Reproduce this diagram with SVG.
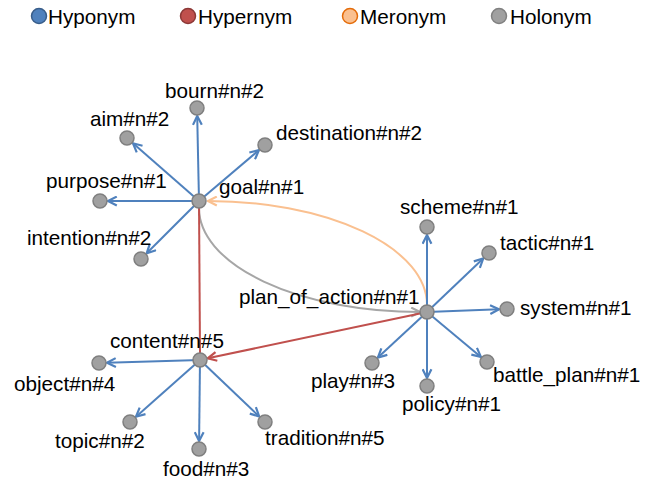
<svg xmlns="http://www.w3.org/2000/svg" width="652" height="487" viewBox="0 0 652 487">
<style>
text{font-family:"Liberation Sans",Arial,sans-serif;font-size:20.7px;fill:#000}
.node{fill:#A0A0A0;stroke:#7F7F7F;stroke-width:1.5}
.e{fill:none;stroke-width:2}
.hypo{stroke:#4F81BD}
.hyper{stroke:#C0504D}
.mero{stroke:#FAC090}
.holo{stroke:#A6A6A6}
</style>
<defs>
<marker id="mb" viewBox="0 0 10 10" refX="9" refY="5" markerWidth="11" markerHeight="11" markerUnits="userSpaceOnUse" orient="auto"><path d="M1,1 L9,5 L1,9" fill="none" stroke="#4F81BD" stroke-width="2"/></marker>
<marker id="mr" viewBox="0 0 10 10" refX="9" refY="5" markerWidth="11" markerHeight="11" markerUnits="userSpaceOnUse" orient="auto"><path d="M1,1 L9,5 L1,9" fill="none" stroke="#C0504D" stroke-width="2"/></marker>
<marker id="mo" viewBox="0 0 10 10" refX="9" refY="5" markerWidth="11" markerHeight="11" markerUnits="userSpaceOnUse" orient="auto"><path d="M1,1 L9,5 L1,9" fill="none" stroke="#FAC090" stroke-width="2"/></marker>
<marker id="mg" viewBox="0 0 10 10" refX="9" refY="5" markerWidth="11" markerHeight="11" markerUnits="userSpaceOnUse" orient="auto"><path d="M1,1 L9,5 L1,9" fill="none" stroke="#A6A6A6" stroke-width="2"/></marker>
</defs>
<g id="legend">
<circle cx="39" cy="16" r="7.5" fill="#4F81BD" stroke="#385D8A" stroke-width="1.5"/><text x="48" y="24">Hyponym</text>
<circle cx="188" cy="16" r="7.5" fill="#C0504D" stroke="#8C3836" stroke-width="1.5"/><text x="198" y="24">Hypernym</text>
<circle cx="350" cy="16" r="7.5" fill="#FAC090" stroke="#E46C0A" stroke-width="1.5"/><text x="360" y="24">Meronym</text>
<circle cx="499" cy="16" r="7.5" fill="#A0A0A0" stroke="#808080" stroke-width="1.5"/><text x="510" y="24">Holonym</text>
</g>
<g id="connectors">
<path class="e mero" d="M427 305 A219 104 0 0 0 208 201" marker-end="url(#mo)"/>
<path class="e holo" d="M199 208 A221 104 0 0 0 420 312" marker-end="url(#mg)"/>
<line class="e hyper" x1="199" y1="201" x2="200" y2="353"/>
<line class="e hyper" x1="427" y1="312" x2="207.8" y2="358.3" marker-end="url(#mr)"/>
<line class="e hypo" x1="199" y1="201" x2="197.2" y2="116" marker-end="url(#mb)"/>
<line class="e hypo" x1="199" y1="201" x2="133" y2="143.3" marker-end="url(#mb)"/>
<line class="e hypo" x1="199" y1="201" x2="258.9" y2="150.2" marker-end="url(#mb)"/>
<line class="e hypo" x1="199" y1="201" x2="108" y2="201" marker-end="url(#mb)"/>
<line class="e hypo" x1="199" y1="201" x2="146.7" y2="253.3" marker-end="url(#mb)"/>
<line class="e hypo" x1="427" y1="312" x2="427" y2="235" marker-end="url(#mb)"/>
<line class="e hypo" x1="427" y1="312" x2="483.2" y2="258.5" marker-end="url(#mb)"/>
<line class="e hypo" x1="427" y1="312" x2="499" y2="309.3" marker-end="url(#mb)"/>
<line class="e hypo" x1="427" y1="312" x2="480.9" y2="356.9" marker-end="url(#mb)"/>
<line class="e hypo" x1="427" y1="312" x2="427" y2="378" marker-end="url(#mb)"/>
<line class="e hypo" x1="427" y1="312" x2="377.9" y2="357.6" marker-end="url(#mb)"/>
<line class="e hypo" x1="200" y1="360" x2="107" y2="362.8" marker-end="url(#mb)"/>
<line class="e hypo" x1="200" y1="360" x2="136" y2="416.7" marker-end="url(#mb)"/>
<line class="e hypo" x1="200" y1="360" x2="199.1" y2="441" marker-end="url(#mb)"/>
<line class="e hypo" x1="200" y1="360" x2="259.2" y2="416.5" marker-end="url(#mb)"/>
</g>
<g id="goal"><circle class="node" cx="199" cy="201" r="7"/><text x="219" y="194">goal#n#1</text></g>
<g id="bourn"><circle class="node" cx="197" cy="108" r="7"/><text x="165" y="98">bourn#n#2</text></g>
<g id="aim"><circle class="node" cx="127" cy="138" r="7"/><text x="90" y="126">aim#n#2</text></g>
<g id="destination"><circle class="node" cx="265" cy="145" r="7"/><text x="276" y="140">destination#n#2</text></g>
<g id="purpose"><circle class="node" cx="100" cy="201" r="7"/><text x="46" y="188">purpose#n#1</text></g>
<g id="intention"><circle class="node" cx="141" cy="259" r="7"/><text x="27" y="245">intention#n#2</text></g>
<g id="plan_of_action"><circle class="node" cx="427" cy="312" r="7"/><text x="239" y="304">plan_of_action#n#1</text></g>
<g id="scheme"><circle class="node" cx="427" cy="227" r="7"/><text x="400" y="214">scheme#n#1</text></g>
<g id="tactic"><circle class="node" cx="489" cy="253" r="7"/><text x="500" y="250">tactic#n#1</text></g>
<g id="system"><circle class="node" cx="507" cy="309" r="7"/><text x="520" y="315">system#n#1</text></g>
<g id="battle_plan"><circle class="node" cx="487" cy="362" r="7"/><text x="493" y="382">battle_plan#n#1</text></g>
<g id="policy"><circle class="node" cx="427" cy="386" r="7"/><text x="402" y="411">policy#n#1</text></g>
<g id="play"><circle class="node" cx="372" cy="363" r="7"/><text x="311" y="388">play#n#3</text></g>
<g id="content"><circle class="node" cx="200" cy="360" r="7"/><text x="110" y="348">content#n#5</text></g>
<g id="object"><circle class="node" cx="99" cy="363" r="7"/><text x="14" y="391">object#n#4</text></g>
<g id="topic"><circle class="node" cx="130" cy="422" r="7"/><text x="55" y="448">topic#n#2</text></g>
<g id="food"><circle class="node" cx="199" cy="449" r="7"/><text x="163" y="476">food#n#3</text></g>
<g id="tradition"><circle class="node" cx="265" cy="422" r="7"/><text x="265" y="445">tradition#n#5</text></g>
</svg>
